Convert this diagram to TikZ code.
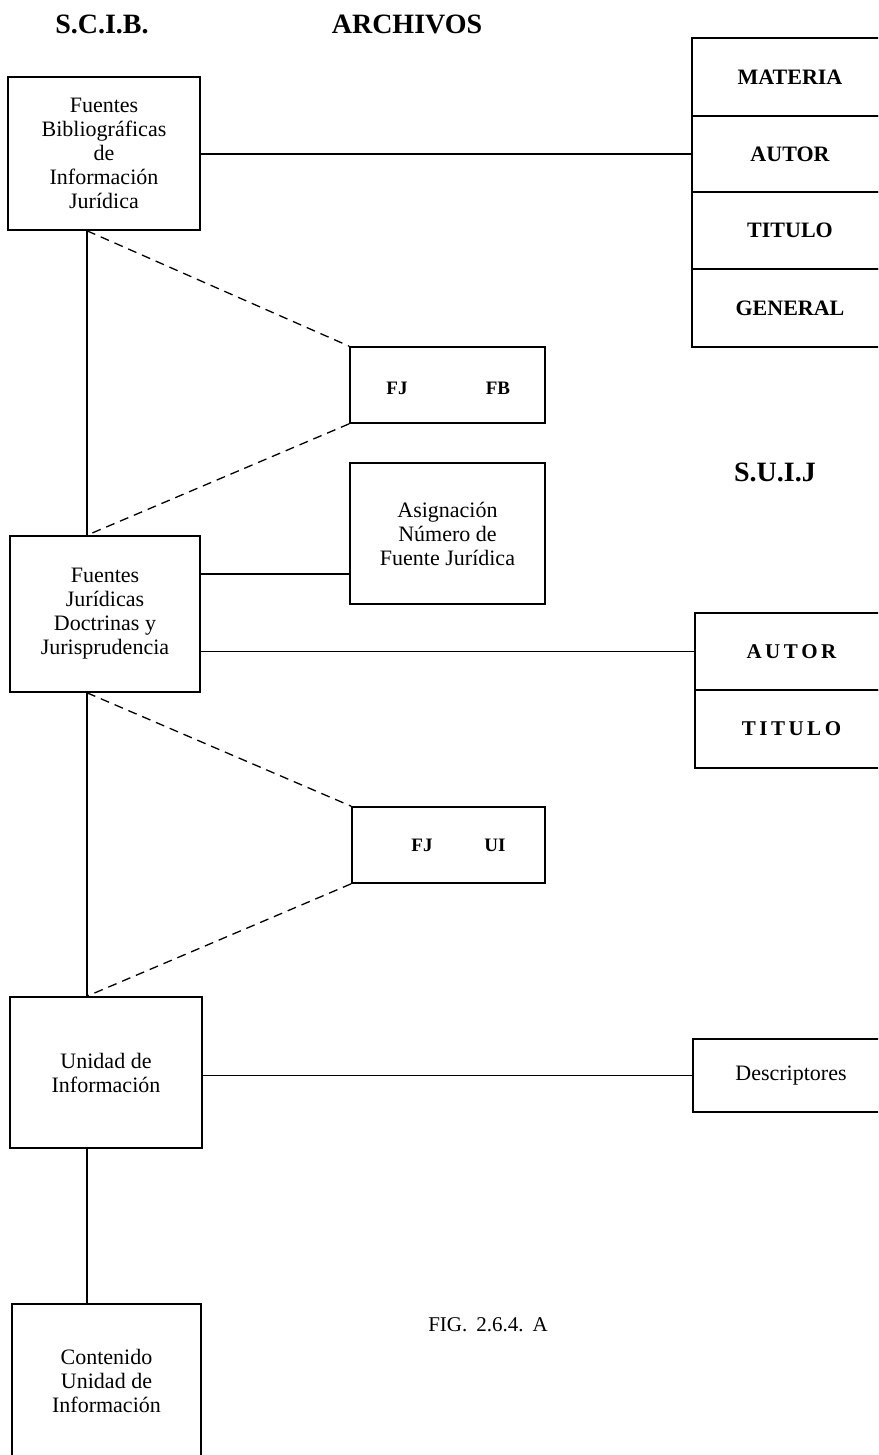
\documentclass[tikz,border=0pt]{standalone}
\usepackage{fontspec}
\setmainfont{Liberation Serif}
\begin{document}
\begin{tikzpicture}[x=1pt,y=-1pt,
  box/.style={draw, line width=1.6pt, inner sep=0pt, align=center,
    font=\fontsize{22}{24}\selectfont},
  cell/.style={draw, line width=1.6pt, inner sep=0pt, align=center,
    minimum width=196pt, font=\bfseries\fontsize{22}{24}\selectfont},
  conn/.style={line width=1.3pt},
  dconn/.style={line width=1.3pt, dash pattern=on 9pt off 6pt},
  title/.style={font=\bfseries\fontsize{28}{30}\selectfont, inner sep=0pt},
  small/.style={font=\bfseries\fontsize{19}{20}\selectfont, inner sep=0pt}]
\useasboundingbox (0,0) rectangle (878,1455);
\clip (0,0) rectangle (878,1455);
\fill[white] (0,0) rectangle (878,1455);

% titles
\node[title] (tscib) at (102,24) {S.C.I.B.};
\node[title] (tarch) at (407,24) {ARCHIVOS};
\node[title] (tsuij) at (775,472) {S.U.I.J};
\node[font=\fontsize{21}{22}\selectfont, inner sep=0pt] (tfig) at (488,1325)
  {FIG.\hspace{9pt}2.6.4.\hspace{9pt}A};

% left column boxes
\node[box, minimum width=192pt, minimum height=153pt] (b1) at (104,153.5)
  {Fuentes\\Bibliográficas\\de\\Información\\Jurídica};
\node[box, minimum width=190pt, minimum height=156pt] (b2) at (105,614)
  {Fuentes\\Jurídicas\\Doctrinas y\\Jurisprudencia};
\node[box, minimum width=192pt, minimum height=151pt] (b3) at (106,1072.5)
  {Unidad de\\Información};
\node[box, minimum width=189pt, minimum height=154pt] (b4) at (106.5,1381)
  {Contenido\\Unidad de\\Información};

% middle boxes
\node[box, minimum width=195pt, minimum height=76pt] (fjfb) at (447.5,385) {};
\node[small] (fj1) at (397,388) {FJ};
\node[small] (fb1) at (498,388) {FB};
\node[box, minimum width=195pt, minimum height=141pt] (asig) at (447.5,533.5)
  {Asignación\\Número de\\Fuente Jurídica};
\node[box, minimum width=193pt, minimum height=76pt] (fjui) at (448.5,845) {};
\node[small] (fj2) at (422,845) {FJ};
\node[small] (ui2) at (495,845) {UI};

% archive cells (top right)
\node[cell, minimum height=78pt] (materia) at (790,77) {MATERIA};
\node[cell, minimum height=76pt] (autor1) at (790,154) {AUTOR};
\node[cell, minimum height=77pt] (titulo1) at (790,230.5) {TITULO};
\node[cell, minimum height=78pt] (general) at (790,308) {GENERAL};

% S.U.I.J cells
\node[cell, minimum width=193pt, minimum height=77pt, font=\bfseries\fontsize{21}{24}\selectfont] (autor2) at (791.5,651.5) {A\,U\,T\,O\,R};
\node[cell, minimum width=193pt, minimum height=78pt, font=\bfseries\fontsize{21}{24}\selectfont] (titulo2) at (791.5,729) {T\,I\,T\,U\,L\,O};

% descriptores
\node[box, minimum width=196pt, minimum height=73pt] (desc) at (791,1075.5) {Descriptores};

% reference coordinates
\coordinate (vx) at (87,0);
\coordinate (h1) at (0,574);

% vertical connectors
\draw[conn] (b1.south -| vx) -- (b2.north -| vx);
\draw[conn] (b2.south -| vx) -- (b3.north -| vx);
\draw[conn] (b3.south -| vx) -- (b4.north -| vx);

% dashed connectors
\draw[dconn] (b1.south -| vx) -- (fjfb.north west);
\draw[dconn] (fjfb.south west) -- (b2.north -| vx);
\draw[dconn] (b2.south -| vx) -- (fjui.north west);
\draw[dconn] (fjui.south west) -- (b3.north -| vx);

% horizontal connectors
\draw[conn] (b1.east |- autor1.west) -- (autor1.west);
\draw[conn] (b2.east |- h1) -- (asig.west |- h1);
\draw[conn] (b2.east |- autor2.west) -- (autor2.west);
\draw[conn] (b3.east |- desc.west) -- (desc.west);
\end{tikzpicture}
\end{document}
